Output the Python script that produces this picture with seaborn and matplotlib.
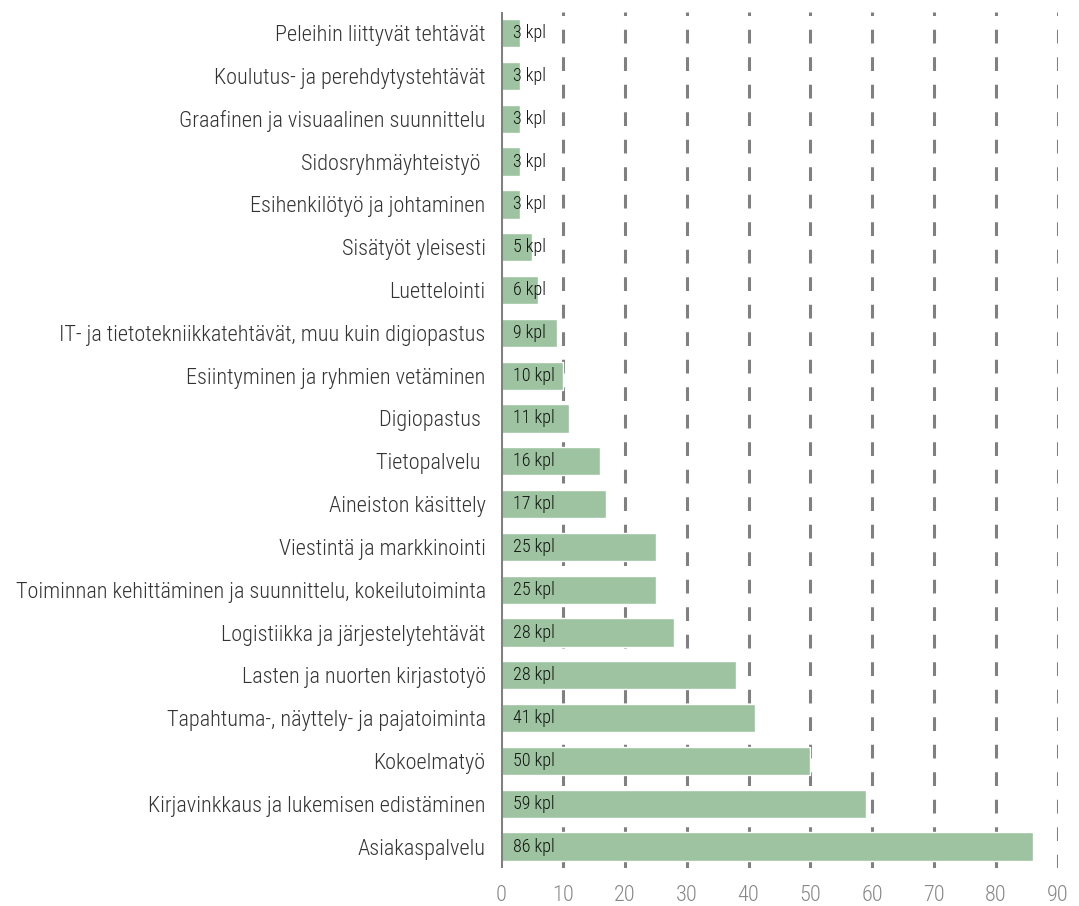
import matplotlib
matplotlib.use('Agg')
import matplotlib.pyplot as plt
import matplotlib.font_manager as fm
import seaborn as sns
import pandas as pd

# tehtävät ja lukumäärät
categories = [
    "Peleihin liittyvät tehtävät",
    "Koulutus- ja perehdytystehtävät",
    "Graafinen ja visuaalinen suunnittelu",
    "Sidosryhmäyhteistyö ",
    "Esihenkilötyö ja johtaminen",
    "Sisätyöt yleisesti",
    "Luettelointi",
    "IT- ja tietotekniikkatehtävät, muu kuin digiopastus",
    "Esiintyminen ja ryhmien vetäminen",
    "Digiopastus ",
    "Tietopalvelu ",
    "Aineiston käsittely",
    "Viestintä ja markkinointi",
    "Toiminnan kehittäminen ja suunnittelu, kokeilutoiminta",
    "Logistiikka ja järjestelytehtävät",
    "Lasten ja nuorten kirjastotyö",
    "Tapahtuma-, näyttely- ja pajatoiminta",
    "Kokoelmatyö",
    "Kirjavinkkaus ja lukemisen edistäminen",
    "Asiakaspalvelu",
]
values = [3, 3, 3, 3, 3, 5, 6, 9, 10, 11, 16, 17, 25, 25, 28, 38, 41, 50, 59, 86]
bar_labels = ["3 kpl", "3 kpl", "3 kpl", "3 kpl", "3 kpl", "5 kpl", "6 kpl", "9 kpl",
              "10 kpl", "11 kpl", "16 kpl", "17 kpl", "25 kpl", "25 kpl", "28 kpl",
              "28 kpl", "41 kpl", "50 kpl", "59 kpl", "86 kpl"]
xticks = [0, 10, 20, 30, 40, 50, 60, 70, 80, 90]

df = pd.DataFrame({'tehtava': categories, 'kpl': values})

sns.set_style("white")
names = {f.name for f in fm.fontManager.ttflist}
condensed = 'Roboto Condensed' in names
fam = ['Roboto Condensed', 'DejaVu Sans'] if condensed else ['Roboto', 'DejaVu Sans']
plt.rcParams['font.family'] = fam
plt.rcParams['font.weight'] = 'light'
lab_size = 16 if condensed else 13
val_size = 13 if condensed else 10.5

fig = plt.figure(figsize=(10.79, 9.06), dpi=100)
ax = fig.add_axes([0.4643, 0.042, 0.5162, 0.945])

sns.barplot(data=df, x='kpl', y='tehtava', orient='h', color='#9dc3a0',
            saturation=1, width=0.66, ax=ax, zorder=3)

for i, (v, t) in enumerate(zip(values, bar_labels)):
    ax.annotate(t, (0, i), xytext=(8.5, 0), textcoords='offset points',
                va='center', ha='left', fontsize=val_size, color='#111111',
                fontweight='light', zorder=4)

ax.set_xlim(0, 90)
ax.set_ylim(19.5, -0.5)
ax.set_xticks(xticks)
for x in xticks[1:]:
    ax.axvline(x, color='#808080', lw=2.2, ls=(0, (4.5, 4.5)), zorder=1)
ax.axvline(0, color='#808080', lw=2.2, zorder=5)

for s in ax.spines.values():
    s.set_visible(False)
ax.set_xlabel('')
ax.set_ylabel('')
ax.tick_params(axis='x', length=0, pad=12, labelsize=lab_size, labelcolor='#888888')
ax.tick_params(axis='y', length=0, pad=11, labelsize=lab_size, labelcolor='#333333')

fig.savefig('out.png', dpi=100)
